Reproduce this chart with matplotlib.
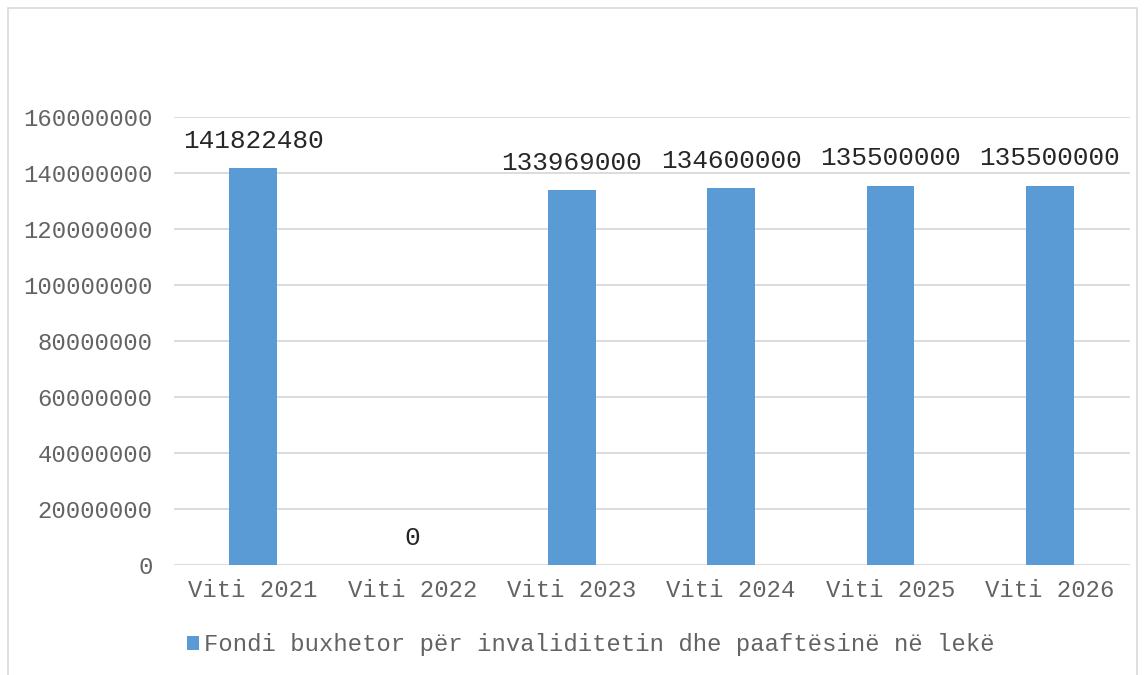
import matplotlib
matplotlib.use("Agg")
import matplotlib.pyplot as plt
from matplotlib.patches import Rectangle

categories = ["Viti 2021", "Viti 2022", "Viti 2023", "Viti 2024", "Viti 2025", "Viti 2026"]
values = [141822480, 0, 133969000, 134600000, 135500000, 135500000]
series_name = "Fondi buxhetor për invaliditetin dhe paaftësinë në lekë"
yticks = [0, 20000000, 40000000, 60000000, 80000000, 100000000, 120000000, 140000000, 160000000]

FONT = "Liberation Mono"
BAR = "#5B9BD5"
GRID = "#D9D9D9"
TXT = "#636363"

fig = plt.figure(figsize=(11.45, 6.75), dpi=100)
fig.patches.append(Rectangle((8/1145, -0.1), (1137-8)/1145, 1.1 - 8/675,
                             transform=fig.transFigure, fill=False,
                             edgecolor=GRID, linewidth=1.2))

ax = fig.add_axes([173.5/1145, 1-565/675, (1129.5-173.5)/1145, (565-117)/675])
x = list(range(len(categories)))
ax.bar(x, values, width=0.30, color=BAR, zorder=3, label=series_name)
ax.set_xlim(-0.5, len(categories)-0.5)
ax.set_ylim(0, 160000000)
ax.set_yticks(yticks)
ax.set_yticklabels([str(v) for v in yticks], fontfamily=FONT, fontsize=17.2, color=TXT)
ax.set_xticks(x)
ax.set_xticklabels(categories, fontfamily=FONT, fontsize=17.2, color=TXT)
ax.tick_params(axis="both", length=0)
ax.tick_params(axis="x", pad=10)
ax.tick_params(axis="y", pad=15)
ax.grid(axis="y", color=GRID, linewidth=1.3, zorder=0)
for s in ax.spines.values():
    s.set_visible(False)

for xi, v in zip(x, values):
    ax.annotate(str(v), (xi, v), xytext=(0, 11), textcoords="offset points",
                ha="center", va="bottom", fontfamily=FONT, fontsize=18.8, color="#262626")

leg = fig.legend(loc="center left", bbox_to_anchor=(175/1145, 1-645/675),
                 frameon=False, prop={"family": FONT, "size": 17.2},
                 handlelength=0.5, handleheight=0.5, handletextpad=0.2, borderpad=0)
for t in leg.get_texts():
    t.set_color(TXT)

fig.savefig("out.png", dpi=100)
